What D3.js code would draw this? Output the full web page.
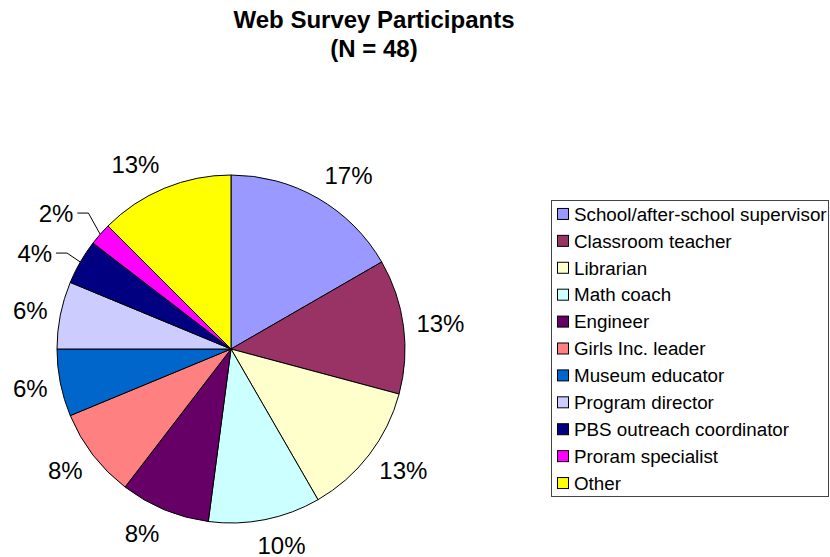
<!DOCTYPE html>
<html>
<head>
<meta charset="utf-8">
<script src="https://cdn.jsdelivr.net/npm/d3@7"></script>
<style>
  body { margin: 0; background: #fff; }
  svg { display: block; }
  text { font-family: "Liberation Sans", Arial, Helvetica, sans-serif; fill: #000; }
</style>
</head>
<body>
<svg id="chart" width="830" height="557"></svg>
<script>
// Survey respondents by role
const categories = [
  "School/after-school supervisor",
  "Classroom teacher",
  "Librarian",
  "Math coach",
  "Engineer",
  "Girls Inc. leader",
  "Museum educator",
  "Program director",
  "PBS outreach coordinator",
  "Proram specialist",
  "Other"
];
const participants = [8, 6, 6, 5, 4, 4, 3, 3, 2, 1, 6];
const sliceColors = [
  "#9999FF", "#993366", "#FFFFCC", "#CCFFFF", "#660066", "#FF8080",
  "#0066CC", "#CCCCFF", "#000080", "#FF00FF", "#FFFF00"
];
const titleText = "Web Survey Participants";

const total = d3.sum(participants);
const data = categories.map((name, i) => ({ name, value: participants[i], color: sliceColors[i] }));

const svg = d3.select("#chart");

// ---- title ----
const title = svg.append("text")
  .attr("x", 374)
  .attr("text-anchor", "middle")
  .style("font-weight", "bold")
  .style("font-size", "24px");
title.append("tspan").attr("x", 374).attr("y", 28).text(titleText);
title.append("tspan").attr("x", 374).attr("y", 57).text(`(N = ${total})`);

// ---- pie ----
const cx = 231, cy = 349, R = 174;
const arcs = d3.pie().sort(null).value(d => d.value)(data);
const arc = d3.arc().innerRadius(0).outerRadius(R);

const g = svg.append("g").attr("transform", `translate(${cx},${cy})`);
g.selectAll("path.slice")
  .data(arcs)
  .join("path")
  .attr("class", "slice")
  .attr("d", arc)
  .attr("fill", d => d.data.color)
  .attr("stroke", "#000")
  .attr("stroke-width", 1)
  .attr("stroke-linejoin", "round");

// ---- percentage labels ----
const labelFont = 24;
const pct = d => Math.round(d.value / total * 100) + "%";
const labels = g.selectAll("text.pct")
  .data(arcs)
  .join("text")
  .attr("class", "pct")
  .attr("text-anchor", "middle")
  .style("font-size", labelFont + "px")
  .text(d => pct(d.data));

const placed = [];
labels.each(function (d) {
  const a = (d.startAngle + d.endAngle) / 2;
  const s = Math.sin(a), c = Math.cos(a);
  const w = this.getComputedTextLength();
  let x = (R + 13) * s + (w / 2) * Math.max(-1, Math.min(1, 3 * s));
  let y = -(R + 26) * c;
  const callout = d.data.value / total < 0.05;
  if (callout) x += 17 * Math.sign(s);
  placed.push({ node: this, d, a, s, c, w, x, y, callout });
});

// spread the callout labels apart vertically
const callouts = placed.filter(p => p.callout).sort((p, q) => p.y - q.y);
const minGap = 40;
for (let k = 1; k < callouts.length; k++) {
  const prev = callouts[k - 1], cur = callouts[k];
  const gap = cur.y - prev.y;
  if (gap < minGap) {
    const push = (minGap - gap) / 2;
    prev.y -= push;
    cur.y += push;
  }
}

placed.forEach(p => {
  d3.select(p.node)
    .attr("x", p.x)
    .attr("y", p.y + 0.358 * labelFont);
});

// leader lines from callout labels to their slices
callouts.forEach(p => {
  const dir = -Math.sign(p.s);
  const ex = R * p.s, ey = -R * p.c;
  const h0 = p.x + dir * (p.w / 2 + 4);
  const h1 = p.x + dir * (p.w / 2 + 15);
  g.append("path")
    .attr("d", d3.line()([[h0, p.y], [h1, p.y], [ex, ey]]))
    .attr("fill", "none")
    .attr("stroke", "#000")
    .attr("stroke-width", 1);
});

// ---- legend ----
const legendX = 551.5, legendTop = 200.5, legendW = 277, legendH = 296;
const legendFont = 18.8;
const rowScale = d3.scaleBand().domain(categories).range([legendTop, legendTop + legendH]);

const legend = svg.append("g");
legend.append("rect")
  .attr("x", legendX).attr("y", legendTop)
  .attr("width", legendW).attr("height", legendH)
  .attr("fill", "#fff")
  .attr("stroke", "#444")
  .attr("stroke-width", 1);

const rows = legend.selectAll("g.row")
  .data(data)
  .join("g")
  .attr("class", "row")
  .attr("transform", d => `translate(0,${rowScale(d.name) + rowScale.bandwidth() / 2})`);

rows.append("rect")
  .attr("x", 557.5).attr("y", -5.5)
  .attr("width", 11).attr("height", 11)
  .attr("fill", d => d.color)
  .attr("stroke", "#000")
  .attr("stroke-width", 1);

rows.append("text")
  .attr("x", 574)
  .attr("y", 0.358 * legendFont)
  .style("font-size", legendFont + "px")
  .text(d => d.name);
</script>
</body>
</html>
